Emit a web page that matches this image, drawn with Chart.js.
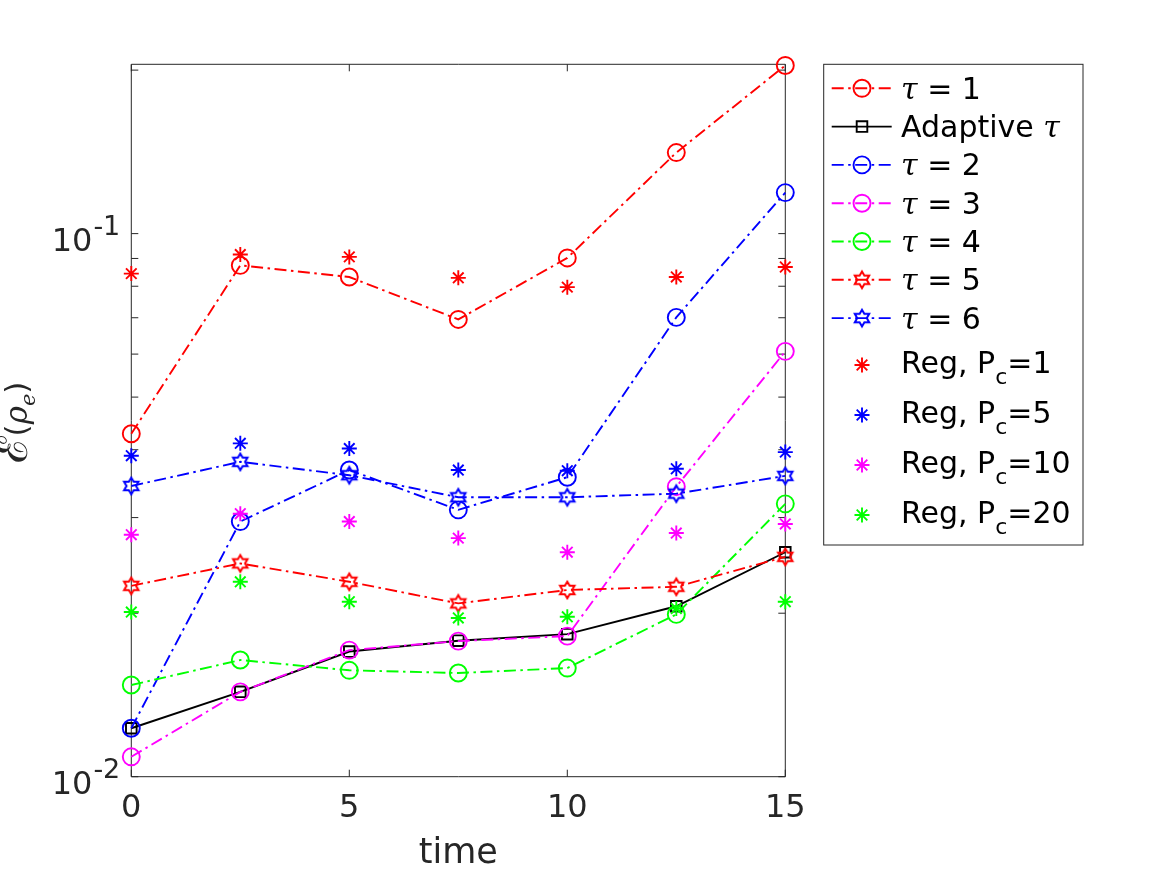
<!DOCTYPE html>
<html>
<head>
<meta charset="utf-8">
<script src="https://cdn.jsdelivr.net/npm/chart.js@4.4.1/dist/chart.umd.min.js"></script>
<style>
html,body{margin:0;padding:0;background:#fff}
canvas{display:block}
</style>
</head>
<body>
<canvas id="grafico" width="1167" height="875"></canvas>
<script>
// dados
const tempos = [0, 2.5, 5, 7.5, 10, 12.5, 15];
const tau1 = [0.0428, 0.0874, 0.0832, 0.0695, 0.0902, 0.141, 0.204];
const adaptativo = [0.01228, 0.01433, 0.0170, 0.0178, 0.0183, 0.0206, 0.0259];
const tau2 = [0.01228, 0.0295, 0.0367, 0.0310, 0.0356, 0.0701, 0.119];
const tau3 = [0.01088, 0.01433, 0.0171, 0.01777, 0.01815, 0.0342, 0.0607];
const tau4 = [0.01475, 0.0164, 0.0157, 0.01552, 0.01585, 0.0199, 0.0318];
const tau5 = [0.02246, 0.0247, 0.02285, 0.02085, 0.02207, 0.02237, 0.0254];
const tau6 = [0.0343, 0.0380, 0.0359, 0.0327, 0.0327, 0.0332, 0.0358];
const reg1 = [0.0844, 0.0915, 0.0906, 0.0829, 0.0797, 0.0832, 0.0868];
const reg5 = [0.0390, 0.0411, 0.0402, 0.0367, 0.0366, 0.0369, 0.0396];
const reg10 = [0.0279, 0.0305, 0.0295, 0.0275, 0.0259, 0.0281, 0.0292];
const reg20 = [0.0201, 0.02285, 0.0210, 0.0196, 0.0197, 0.0204, 0.0210];

const xTicks = [0, 5, 10, 15];
const yMaiores = [0.01, 0.1];
const yMenores = [0.02, 0.03, 0.04, 0.05, 0.06, 0.07, 0.08, 0.09, 0.2];
const rotulos = ['τ = 1', 'Adaptive τ', 'τ = 2', 'τ = 3', 'τ = 4', 'τ = 5', 'τ = 6',
  'Reg, P_c=1', 'Reg, P_c=5', 'Reg, P_c=10', 'Reg, P_c=20'];

const EIXO = '#262626';
const TRACO_PONTO = [12, 4.5, 2.5, 4.5];

// hexagrama (marcador 'h' do matlab)
function hexagrama(cor){
  const c = document.createElement('canvas');
  c.width = c.height = 26;
  const g = c.getContext('2d');
  g.strokeStyle = cor; g.lineWidth = 2; g.lineJoin = 'miter';
  g.beginPath();
  for (let k = 0; k < 12; k++) {
    const ang = -Math.PI / 2 + k * Math.PI / 6;
    const r = k % 2 ? 8.3 / Math.sqrt(3) : 8.3;
    const px = 13 + r * Math.cos(ang), py = 13 + r * Math.sin(ang);
    if (k) g.lineTo(px, py); else g.moveTo(px, py);
  }
  g.closePath(); g.stroke();
  return c;
}

function serie(rotulo, valores, cor, estilo, raio, tracejado, linha){
  return {
    label: rotulo,
    data: tempos.map((t, i) => ({x: t, y: valores[i]})),
    borderColor: cor,
    backgroundColor: 'rgba(0,0,0,0)',
    borderWidth: 1.9,
    borderDash: tracejado,
    showLine: linha,
    pointStyle: estilo,
    pointRadius: raio,
    pointHoverRadius: raio,
    pointBorderColor: cor,
    pointBackgroundColor: 'rgba(0,0,0,0)',
    pointBorderWidth: 1.9,
    tension: 0,
    clip: false
  };
}

const datasets = [
  serie(rotulos[0], tau1, '#ff0000', 'circle', 8.5, TRACO_PONTO, true),
  serie(rotulos[1], adaptativo, '#000000', 'rect', 7.5, [], true),
  serie(rotulos[2], tau2, '#0000ff', 'circle', 8.5, TRACO_PONTO, true),
  serie(rotulos[3], tau3, '#ff00ff', 'circle', 8.5, TRACO_PONTO, true),
  serie(rotulos[4], tau4, '#00ff00', 'circle', 8.5, TRACO_PONTO, true),
  serie(rotulos[5], tau5, '#ff0000', hexagrama('#ff0000'), 8.5, TRACO_PONTO, true),
  serie(rotulos[6], tau6, '#0000ff', hexagrama('#0000ff'), 8.5, TRACO_PONTO, true),
  serie(rotulos[7], reg1, '#ff0000', 'star', 7.5, [], false),
  serie(rotulos[8], reg5, '#0000ff', 'star', 7.5, [], false),
  serie(rotulos[9], reg10, '#ff00ff', 'star', 7.5, [], false),
  serie(rotulos[10], reg20, '#00ff00', 'star', 7.5, [], false)
];
// no matlab a ultima curva fica por cima
datasets.forEach((d, i) => d.order = datasets.length - i);

// texto com tau italico e subscrito "_c"
function textoRico(ctx, txt, x, y, tam){
  let i = 0;
  while (i < txt.length) {
    const ch = txt[i];
    if (ch === 'τ') {
      ctx.font = 'italic ' + tam + 'px "DejaVu Serif"';
      ctx.fillText(ch, x, y); x += ctx.measureText(ch).width; i++;
    } else if (ch === '_') {
      const s = txt[i + 1];
      ctx.font = Math.round(tam * 0.72) + 'px "DejaVu Sans"';
      ctx.fillText(s, x, y + 11); x += ctx.measureText(s).width; i += 2;
    } else {
      let j = i;
      while (j < txt.length && txt[j] !== 'τ' && txt[j] !== '_') j++;
      const run = txt.slice(i, j);
      ctx.font = tam + 'px "DejaVu Sans"';
      ctx.fillText(run, x, y); x += ctx.measureText(run).width; i = j;
    }
  }
  return x;
}

function marcador(ctx, ds, x, y){
  const s = ds.pointStyle, r = ds.pointRadius;
  if (s instanceof HTMLCanvasElement) { ctx.drawImage(s, x - s.width / 2, y - s.height / 2); return; }
  ctx.save();
  ctx.strokeStyle = ds.pointBorderColor; ctx.lineWidth = ds.pointBorderWidth; ctx.setLineDash([]);
  ctx.beginPath();
  if (s === 'circle') ctx.arc(x, y, r, 0, 2 * Math.PI);
  else if (s === 'rect') { const h = r * Math.SQRT1_2; ctx.rect(x - h, y - h, 2 * h, 2 * h); }
  else if (s === 'star') {
    for (let k = 0; k < 4; k++) {
      const a = k * Math.PI / 4;
      ctx.moveTo(x - r * Math.cos(a), y - r * Math.sin(a));
      ctx.lineTo(x + r * Math.cos(a), y + r * Math.sin(a));
    }
  }
  ctx.stroke(); ctx.restore();
}

const caixaEixos = {
  id: 'caixaEixos',
  beforeDatasetsDraw(chart){
    const {ctx, chartArea: a, scales: {x, y}} = chart;
    ctx.save();
    ctx.strokeStyle = EIXO; ctx.lineWidth = 1;
    ctx.beginPath();
    ctx.rect(a.left, a.top, a.right - a.left, a.bottom - a.top);
    x.ticks.forEach(t => {
      const px = x.getPixelForValue(t.value);
      ctx.moveTo(px, a.bottom); ctx.lineTo(px, a.bottom - 7);
      ctx.moveTo(px, a.top); ctx.lineTo(px, a.top + 7);
    });
    y.ticks.forEach(t => {
      const py = y.getPixelForValue(t.value);
      ctx.moveTo(a.left, py); ctx.lineTo(a.left + 7, py);
      ctx.moveTo(a.right, py); ctx.lineTo(a.right - 7, py);
    });
    ctx.stroke();
    ctx.restore();
  },
  afterDraw(chart){
    const {ctx, chartArea: a, scales: {x, y}} = chart;
    ctx.save();
    ctx.fillStyle = EIXO;
    ctx.textBaseline = 'alphabetic';
    // rotulos do eixo x
    ctx.font = '32px "DejaVu Sans"';
    ctx.textAlign = 'center';
    x.ticks.forEach(t => ctx.fillText(String(t.value), x.getPixelForValue(t.value), a.bottom + 40.6));
    ctx.font = '35px "DejaVu Sans"';
    ctx.fillText('time', (a.left + a.right) / 2, 863.3);
    // rotulos do eixo y: 10^-n
    ctx.textAlign = 'left';
    yMaiores.forEach(v => {
      const py = y.getPixelForValue(v);
      const expo = String(Math.round(Math.log10(v)));
      ctx.font = '27px "DejaVu Sans"';
      const wSup = ctx.measureText(expo).width;
      ctx.font = '32px "DejaVu Sans"';
      const wBase = ctx.measureText('10').width;
      const x0 = a.left - 12 - wSup - wBase;
      ctx.fillText('10', x0, py + 17.6);
      ctx.font = '27px "DejaVu Sans"';
      ctx.fillText(expo, x0 + wBase + 1, py + 1);
    });
    // titulo do eixo y
    ctx.save();
    ctx.translate(27, (a.top + a.bottom) / 2 + 2);
    ctx.rotate(-Math.PI / 2);
    const partes = [
      ['ℰ', '44px "DejaVu Serif"', 0],
      ['(', '31px "DejaVu Sans"', 0],
      ['ρ', 'italic 31px "DejaVu Serif"', 0],
      ['e', 'italic 21px "DejaVu Serif"', 8],
      [')', '31px "DejaVu Sans"', 0]
    ];
    let w = 0;
    partes.forEach(p => { ctx.font = p[1]; w += ctx.measureText(p[0]).width; });
    let u = -w / 2;
    partes.forEach(p => { ctx.font = p[1]; ctx.fillText(p[0], u, p[2]); u += ctx.measureText(p[0]).width; });
    ctx.restore();

    // legenda
    const L = {x: 823.7, y: 64.3, w: 259.3, h: 480.7};
    ctx.fillStyle = '#ffffff';
    ctx.fillRect(L.x, L.y, L.w, L.h);
    ctx.strokeStyle = EIXO; ctx.lineWidth = 1;
    ctx.strokeRect(L.x, L.y, L.w, L.h);
    chart.data.datasets.forEach((ds, i) => {
      const ry = i < 7 ? 88.3 + i * 38.3 : 365 + (i - 7) * 50;
      if (ds.showLine) {
        ctx.save();
        ctx.strokeStyle = ds.borderColor; ctx.lineWidth = ds.borderWidth;
        ctx.setLineDash(ds.borderDash);
        ctx.beginPath(); ctx.moveTo(831.7, ry); ctx.lineTo(891.7, ry); ctx.stroke();
        ctx.restore();
      }
      marcador(ctx, ds, 862, ry);
      ctx.fillStyle = '#000000';
      textoRico(ctx, ds.label, 901, ry + (i < 7 ? 10.5 : 7.5), 30);
    });
    ctx.restore();
  }
};

new Chart(document.getElementById('grafico'), {
  type: 'line',
  data: {datasets: datasets},
  options: {
    responsive: false,
    animation: false,
    devicePixelRatio: 1,
    layout: {padding: {left: 0, top: 64.3, right: 381.7, bottom: 0}},
    plugins: {legend: {display: false}, tooltip: {enabled: false}},
    scales: {
      x: {
        type: 'linear', min: 0, max: 15,
        grid: {display: false, drawTicks: false},
        border: {display: false},
        ticks: {display: false, stepSize: 5},
        afterBuildTicks: s => { s.ticks = xTicks.map(v => ({value: v})); },
        afterFit: s => { s.height = 98.3; }
      },
      y: {
        type: 'logarithmic', min: 0.01, max: 0.205,
        grid: {display: false, drawTicks: false},
        border: {display: false},
        ticks: {display: false},
        afterBuildTicks: s => { s.ticks = yMaiores.concat(yMenores).map(v => ({value: v})); },
        afterFit: s => { s.width = 131.3; }
      }
    }
  },
  plugins: [caixaEixos]
});
</script>
</body>
</html>
